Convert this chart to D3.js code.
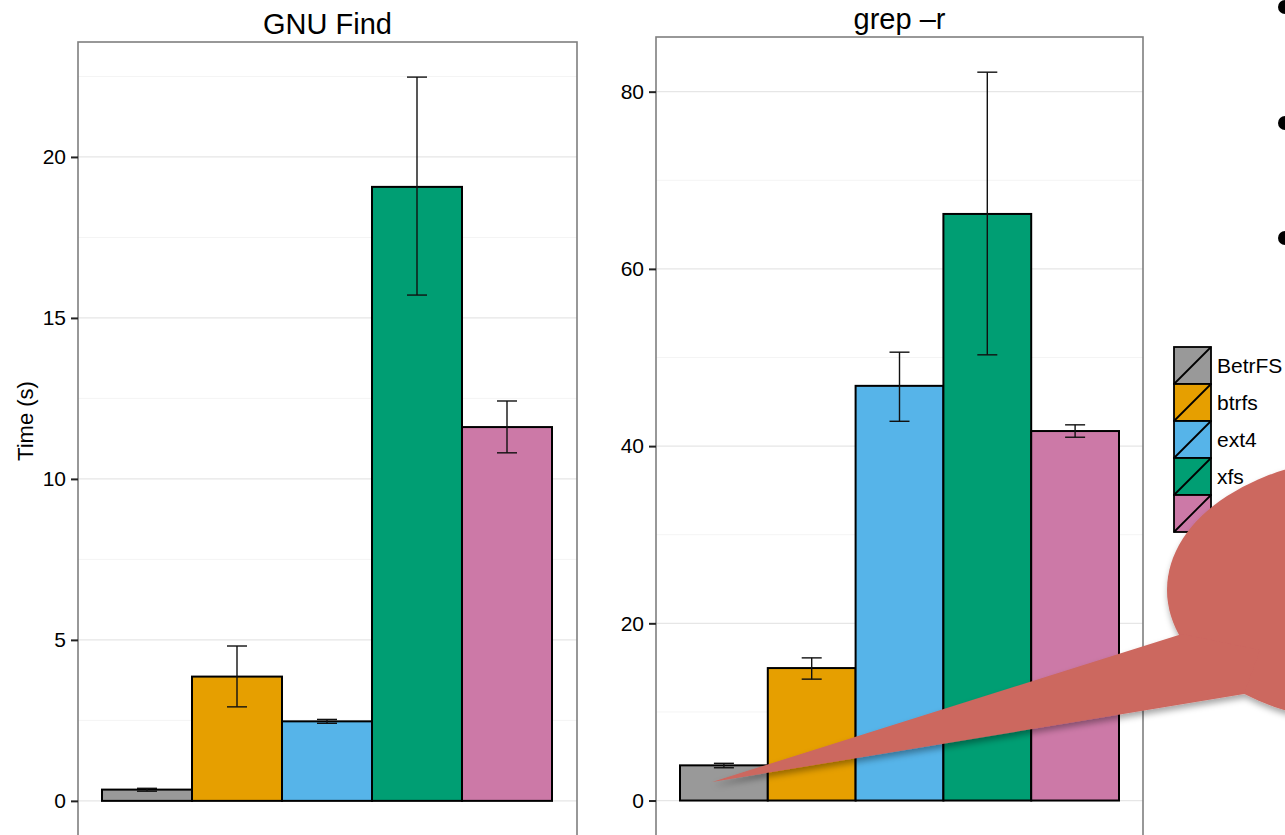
<!DOCTYPE html>
<html>
<head>
<meta charset="utf-8">
<script src="https://cdn.jsdelivr.net/npm/d3@7"></script>
<style>
  html, body { margin: 0; padding: 0; background: #fff; }
  svg { display: block; font-family: "Liberation Sans", Arial, Helvetica, sans-serif; }
</style>
</head>
<body>
<svg id="chart" width="1285" height="835"></svg>
<script>
// ---------- data ----------
const systems = ["BetrFS", "btrfs", "ext4", "xfs", "zfs"];
const colors = ["#999999", "#E69F00", "#56B4E9", "#009E73", "#CC79A7"];

const findTitle = "GNU Find";
const findMean = [0.35, 3.86, 2.47, 19.07, 11.61];
const findLow  = [0.30, 2.92, 2.41, 15.71, 10.81];
const findHigh = [0.39, 4.81, 2.53, 22.48, 12.42];
const findTicks = [0, 5, 10, 15, 20];
const findMinor = [2.5, 7.5, 12.5, 17.5, 22.5];

const grepTitle = "grep \u2013r";
const grepMean = [3.97, 14.95, 46.8, 66.2, 41.7];
const grepLow  = [3.7, 13.7, 42.8, 50.3, 41.0];
const grepHigh = [4.2, 16.1, 50.6, 82.2, 42.4];
const grepTicks = [0, 20, 40, 60, 80];
const grepMinor = [10, 30, 50, 70];

const yLabel = "Time (s)";

// ---------- drawing ----------
const svg = d3.select("#chart");

function panel(cfg) {
  const g = svg.append("g");
  const y = d3.scaleLinear().domain(cfg.domain).range([cfg.bottom, cfg.top]);
  const x = d3.scaleBand().domain(systems).range([cfg.barLeft, cfg.barRight]).padding(0);

  // gridlines
  g.selectAll(".minor").data(cfg.minor).enter().append("line")
    .attr("x1", cfg.left).attr("x2", cfg.right)
    .attr("y1", d => y(d)).attr("y2", d => y(d))
    .attr("stroke", "#f4f4f4").attr("stroke-width", 1);
  g.selectAll(".major").data(cfg.ticks).enter().append("line")
    .attr("x1", cfg.left).attr("x2", cfg.right)
    .attr("y1", d => y(d)).attr("y2", d => y(d))
    .attr("stroke", "#e6e6e6").attr("stroke-width", 1.2);

  // bars
  g.selectAll(".bar").data(systems).enter().append("rect")
    .attr("x", d => x(d))
    .attr("width", x.bandwidth())
    .attr("y", (d, i) => y(cfg.mean[i]))
    .attr("height", (d, i) => y(0) - y(cfg.mean[i]))
    .attr("fill", (d, i) => colors[i])
    .attr("stroke", "#000").attr("stroke-width", 2);

  // error bars
  const hw = 10;
  const eb = g.selectAll(".err").data(systems).enter().append("g")
    .attr("stroke", "#111").attr("stroke-width", 1.4).attr("fill", "none");
  eb.append("line")
    .attr("x1", d => x(d) + x.bandwidth() / 2).attr("x2", d => x(d) + x.bandwidth() / 2)
    .attr("y1", (d, i) => y(cfg.low[i])).attr("y2", (d, i) => y(cfg.high[i]));
  eb.append("line")
    .attr("x1", d => x(d) + x.bandwidth() / 2 - hw).attr("x2", d => x(d) + x.bandwidth() / 2 + hw)
    .attr("y1", (d, i) => y(cfg.low[i])).attr("y2", (d, i) => y(cfg.low[i]));
  eb.append("line")
    .attr("x1", d => x(d) + x.bandwidth() / 2 - hw).attr("x2", d => x(d) + x.bandwidth() / 2 + hw)
    .attr("y1", (d, i) => y(cfg.high[i])).attr("y2", (d, i) => y(cfg.high[i]));

  // panel border
  g.append("rect")
    .attr("x", cfg.left).attr("y", cfg.top)
    .attr("width", cfg.right - cfg.left).attr("height", cfg.bottom - cfg.top + 20)
    .attr("fill", "none").attr("stroke", "#7f7f7f").attr("stroke-width", 1.6);

  // y axis
  const axis = d3.axisLeft(y).tickValues(cfg.ticks).tickSize(7).tickPadding(5).tickFormat(d3.format("d"));
  const ag = g.append("g").attr("transform", `translate(${cfg.left},0)`).call(axis);
  ag.select(".domain").remove();
  ag.selectAll(".tick line").attr("stroke", "#222").attr("stroke-width", 2);
  ag.selectAll(".tick text").attr("fill", "#000").style("font-size", "21px")
    .style("font-family", "'Liberation Sans', Arial, sans-serif");

  // title
  g.append("text")
    .attr("x", (cfg.left + cfg.right) / 2).attr("y", cfg.titleY)
    .attr("text-anchor", "middle")
    .style("font-size", "29px").attr("fill", "#000")
    .text(cfg.title);
}

panel({
  title: findTitle, titleY: 34,
  mean: findMean, low: findLow, high: findHigh,
  ticks: findTicks, minor: findMinor,
  domain: [-1.06, 23.57], top: 42, bottom: 835,
  left: 78, right: 577, barLeft: 102, barRight: 552
});

panel({
  title: grepTitle, titleY: 29,
  mean: grepMean, low: grepLow, high: grepHigh,
  ticks: grepTicks, minor: grepMinor,
  domain: [-3.89, 86.17], top: 37, bottom: 835,
  left: 656, right: 1143, barLeft: 680, barRight: 1119
});

// y axis label
svg.append("text")
  .attr("transform", "translate(33,421) rotate(-90)")
  .attr("text-anchor", "middle")
  .style("font-size", "22px").attr("fill", "#000")
  .text(yLabel);

// legend
const lg = svg.append("g").attr("transform", "translate(1174,347)");
const ks = 37;
const items = lg.selectAll(".item").data(systems).enter().append("g")
  .attr("transform", (d, i) => `translate(0,${i * ks})`);
items.append("rect")
  .attr("width", ks).attr("height", ks)
  .attr("fill", (d, i) => colors[i]).attr("stroke", "#000").attr("stroke-width", 1.8);
items.append("line")
  .attr("x1", 0).attr("y1", ks).attr("x2", ks).attr("y2", 0)
  .attr("stroke", "#000").attr("stroke-width", 1.8);
items.append("text")
  .attr("x", ks + 6).attr("y", ks / 2).attr("dy", "0.35em")
  .style("font-size", "21px").attr("fill", "#000")
  .text(d => d);

// bullet dots (slide fragments)
const bullets = [7, 123, 238];
svg.selectAll(".bullet").data(bullets).enter().append("circle")
  .attr("cx", 1285).attr("cy", d => d).attr("r", 7).attr("fill", "#000");

// callout bubble
const defs = svg.append("defs");
const f = defs.append("filter").attr("id", "shadow")
  .attr("x", "-20%").attr("y", "-20%").attr("width", "140%").attr("height", "140%");
f.append("feDropShadow").attr("dx", 1).attr("dy", 4).attr("stdDeviation", 3)
  .attr("flood-color", "#000").attr("flood-opacity", 0.35);

const bubble = svg.append("g").attr("filter", "url(#shadow)").attr("fill", "#CC675F");
bubble.append("ellipse").attr("cx", 1372).attr("cy", 590).attr("rx", 205).attr("ry", 133);
bubble.append("path").attr("d", d3.line()([[712, 782], [1182, 634], [1260, 650], [1244, 694]]) + "Z");
</script>
</body>
</html>
